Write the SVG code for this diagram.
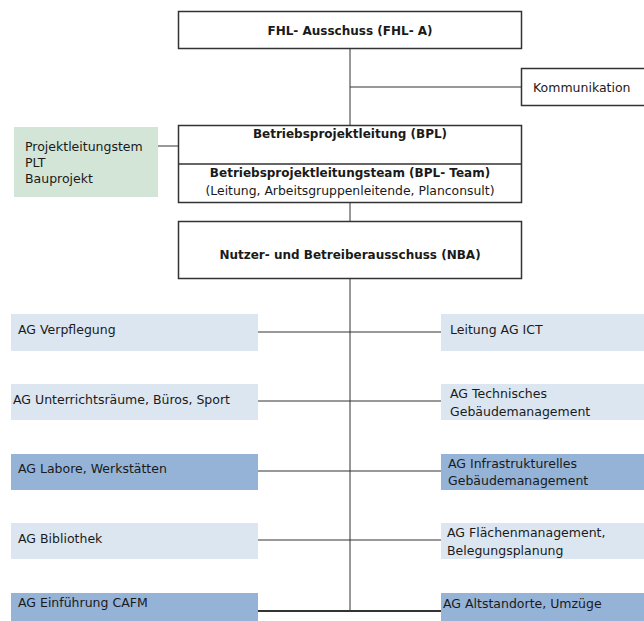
<svg xmlns="http://www.w3.org/2000/svg" width="644" height="621" viewBox="0 0 644 621">
<style>
.box{fill:#fff;stroke:#333;stroke-width:1.5}
.lt{fill:#dce6f1}
.dk{fill:#95b3d7}
.gr{fill:#d3e5d7}
.ln{stroke:#333;stroke-width:1;fill:none}
text{font-family:"DejaVu Sans","Liberation Sans",sans-serif;font-size:12.5px;fill:#1a1a1a}
.b{font-weight:bold;font-size:12px;text-anchor:middle}
.c{text-anchor:middle;font-size:12.4px}
</style>
<rect width="644" height="621" fill="#fff"/>
<g id="connectors">
<path class="ln" d="M350 48V125M350 87H521M158 146H178M350 203V221M350 279V611M258 332H441M258 401H441M258 471H441M258 540H441"/>
<path d="M258 611H441" stroke="#333" stroke-width="2"/>
</g>
<g id="fhl"><rect class="box" x="178.5" y="11.5" width="343" height="37"/><text class="b" x="350" y="35">FHL- Ausschuss (FHL- A)</text></g>
<g id="kommunikation"><rect class="box" x="521.5" y="68.5" width="130" height="37"/><text x="533" y="91.5">Kommunikation</text></g>
<g id="plt"><rect class="gr" x="14" y="127" width="144" height="70"/><text x="25" y="151">Projektleitungstem</text><text x="25" y="167">PLT</text><text x="25" y="183">Bauprojekt</text></g>
<g id="bpl"><rect class="box" x="178.5" y="125.5" width="343" height="77"/><line x1="178.5" y1="164" x2="521.5" y2="164" stroke="#333" stroke-width="1.5"/><text class="b" x="350" y="138">Betriebsprojektleitung (BPL)</text><text class="b" x="350" y="177">Betriebsprojektleitungsteam (BPL- Team)</text><text class="c" x="350" y="195">(Leitung, Arbeitsgruppenleitende, Planconsult)</text></g>
<g id="nba"><rect class="box" x="178.5" y="221.5" width="343" height="57"/><text class="b" x="350" y="259">Nutzer-  und Betreiberausschuss (NBA)</text></g>
<g id="ag-verpflegung"><rect class="lt" x="11" y="314" width="247" height="37"/><text x="18" y="334">AG Verpflegung</text></g>
<g id="ag-unterricht"><rect class="lt" x="11" y="384" width="247" height="36"/><text x="13" y="403.5">AG Unterrichtsräume, Büros, Sport</text></g>
<g id="ag-labore"><rect class="dk" x="11" y="454" width="247" height="36"/><text x="18" y="473">AG Labore, Werkstätten</text></g>
<g id="ag-bibliothek"><rect class="lt" x="11" y="523" width="247" height="36"/><text x="18" y="542.5">AG Bibliothek</text></g>
<g id="ag-cafm"><rect class="dk" x="11" y="593" width="247" height="28"/><text x="18" y="607">AG Einführung CAFM</text></g>
<g id="ag-ict"><rect class="lt" x="441" y="314" width="203" height="37"/><text x="450" y="334">Leitung AG ICT</text></g>
<g id="ag-technisch"><rect class="lt" x="441" y="384" width="203" height="36"/><text x="450" y="398">AG Technisches</text><text x="450" y="415.5">Gebäudemanagement</text></g>
<g id="ag-infra"><rect class="dk" x="441" y="454" width="203" height="36"/><text x="448" y="467.5">AG Infrastrukturelles</text><text x="448" y="485">Gebäudemanagement</text></g>
<g id="ag-flaechen"><rect class="lt" x="441" y="523" width="203" height="36"/><text x="447" y="537">AG Flächenmanagement,</text><text x="447" y="554.5">Belegungsplanung</text></g>
<g id="ag-altstandorte"><rect class="dk" x="441" y="593" width="203" height="28"/><text x="443" y="607.5">AG Altstandorte, Umzüge</text></g>
</svg>
